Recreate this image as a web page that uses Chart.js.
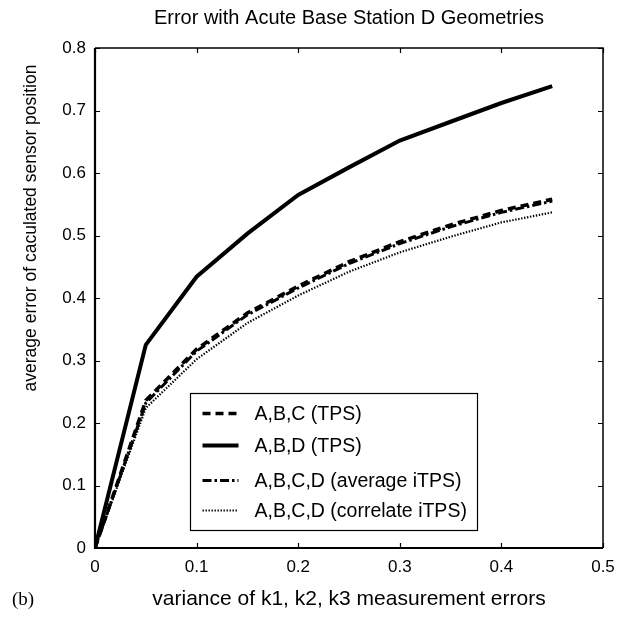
<!DOCTYPE html>
<html>
<head>
<meta charset="utf-8">
<script src="https://cdn.jsdelivr.net/npm/chart.js@4.4.1/dist/chart.umd.min.js"></script>
<style>
  html, body { margin: 0; padding: 0; background: #fff; }
  canvas { display: block; }
</style>
</head>
<body>
<canvas id="c" width="642" height="622"></canvas>
<script>
// ---- data ----
const xValues = [0, 0.05, 0.1, 0.15, 0.2, 0.25, 0.3, 0.35, 0.4, 0.45];
const abcTPS   = [0, 0.236, 0.318, 0.376, 0.419, 0.458, 0.490, 0.517, 0.540, 0.558];
const abdTPS   = [0, 0.325, 0.434, 0.503, 0.565, 0.609, 0.652, 0.682, 0.712, 0.739];
const avgITPS  = [0, 0.232, 0.315, 0.373, 0.416, 0.455, 0.487, 0.514, 0.537, 0.555];
const corITPS  = [0, 0.224, 0.302, 0.360, 0.404, 0.442, 0.473, 0.498, 0.521, 0.537];
const seriesLabels = ['A,B,C (TPS)', 'A,B,D (TPS)', 'A,B,C,D (average iTPS)', 'A,B,C,D (correlate iTPS)'];
const xTicks = [0, 0.1, 0.2, 0.3, 0.4, 0.5];
const yTicks = [0, 0.1, 0.2, 0.3, 0.4, 0.5, 0.6, 0.7, 0.8];
const titleText = 'Error with Acute Base Station D Geometries';
const xTitle = 'variance of k1, k2, k3 measurement errors';
const yTitle = 'average error of caculated sensor position';
const panelTag = '(b)';

const toPts = ys => xValues.map((x, i) => ({ x: x, y: ys[i] }));

const styles = [
  { borderWidth: 3.6, borderDash: [8, 5] },
  { borderWidth: 4, borderDash: [] },
  { borderWidth: 3, borderDash: [9, 3, 2.5, 3] },
  { borderWidth: 2.2, borderDash: [1.4, 1.6] }
];
const values = [abcTPS, abdTPS, avgITPS, corITPS];

const datasets = values.map((v, i) => ({
  label: seriesLabels[i],
  data: toPts(v),
  borderColor: '#000',
  backgroundColor: '#000',
  borderWidth: styles[i].borderWidth,
  borderDash: styles[i].borderDash,
  pointRadius: 0,
  tension: 0,
  fill: false
}));

// frame + inward ticks, legend, extra texts
const framePlugin = {
  id: 'frame',
  afterDatasetsDraw(chart) {
    const ctx = chart.ctx;
    const a = chart.chartArea;
    const xs = chart.scales.x, ys = chart.scales.y;
    ctx.save();
    ctx.strokeStyle = '#000';
    // box
    ctx.lineWidth = 1.5;
    ctx.beginPath();
    ctx.moveTo(a.left, a.top); ctx.lineTo(a.right, a.top); ctx.lineTo(a.right, a.bottom);
    ctx.stroke();
    ctx.lineWidth = 2.2;
    ctx.beginPath();
    ctx.moveTo(a.left, a.top); ctx.lineTo(a.left, a.bottom); ctx.lineTo(a.right, a.bottom);
    ctx.stroke();
    // inward ticks
    const tl = 5;
    ctx.lineWidth = 1.2;
    ctx.beginPath();
    xTicks.forEach(t => {
      const px = Math.round(xs.getPixelForValue(t)) + 0.5;
      ctx.moveTo(px, a.bottom); ctx.lineTo(px, a.bottom - tl);
      ctx.moveTo(px, a.top); ctx.lineTo(px, a.top + tl);
    });
    yTicks.forEach(t => {
      const py = Math.round(ys.getPixelForValue(t)) + 0.5;
      ctx.moveTo(a.left, py); ctx.lineTo(a.left + tl, py);
      ctx.moveTo(a.right, py); ctx.lineTo(a.right - tl, py);
    });
    ctx.stroke();

    // legend box
    const lx = a.left + 95.5, ly = a.top + 345.5, lw = 287, lh = 137;
    ctx.fillStyle = '#fff';
    ctx.fillRect(lx, ly, lw, lh);
    ctx.lineWidth = 1.2;
    ctx.strokeRect(lx, ly, lw, lh);
    const rowY = [20, 52, 87, 117];
    ctx.font = '19.5px "Liberation Sans", Arial, sans-serif';
    ctx.textBaseline = 'middle';
    ctx.textAlign = 'left';
    chart.data.datasets.forEach((ds, i) => {
      const y = ly + rowY[i];
      ctx.save();
      ctx.lineWidth = ds.borderWidth;
      ctx.setLineDash(ds.borderDash || []);
      ctx.beginPath();
      ctx.moveTo(lx + 12, y); ctx.lineTo(lx + 48, y);
      ctx.stroke();
      ctx.restore();
      ctx.fillStyle = '#000';
      ctx.fillText(ds.label, lx + 64, y + 1);
    });

    // y-axis title (placed off-centre as in the reference)
    ctx.save();
    ctx.translate(31, 228);
    ctx.rotate(-Math.PI / 2);
    ctx.font = '17.5px "Liberation Sans", Arial, sans-serif';
    ctx.fillStyle = '#000';
    ctx.textAlign = 'center';
    ctx.textBaseline = 'middle';
    ctx.fillText(yTitle, 0, 0);
    ctx.restore();

    // panel tag
    ctx.font = '19px "Liberation Serif", "Times New Roman", serif';
    ctx.fillStyle = '#000';
    ctx.textAlign = 'left';
    ctx.textBaseline = 'alphabetic';
    ctx.fillText(panelTag, 12, 605);
    ctx.restore();
  }
};

new Chart(document.getElementById('c'), {
  type: 'line',
  data: { datasets: datasets },
  options: {
    responsive: false,
    animation: false,
    devicePixelRatio: 1,
    layout: { padding: { left: 0, right: 39, top: 0, bottom: 0 } },
    plugins: {
      legend: { display: false },
      tooltip: { enabled: false },
      title: {
        display: true,
        fullSize: false,
        text: titleText,
        color: '#000',
        font: { family: '"Liberation Sans", Arial, sans-serif', size: 20, weight: 'normal' },
        padding: { top: 6, bottom: 18 }
      }
    },
    scales: {
      x: {
        type: 'linear',
        min: 0, max: 0.5,
        afterFit(s) { s.height = 74; },
        afterBuildTicks(s) { s.ticks = xTicks.map(v => ({ value: v })); },
        grid: { display: false, drawTicks: false },
        border: { display: false },
        ticks: {
          color: '#000',
          font: { family: '"Liberation Sans", Arial, sans-serif', size: 17 },
          padding: 9,
          maxRotation: 0,
          callback: v => String(v)
        },
        title: {
          display: true,
          text: xTitle,
          color: '#000',
          font: { family: '"Liberation Sans", Arial, sans-serif', size: 21 },
          padding: { top: 0, bottom: 10 }
        }
      },
      y: {
        type: 'linear',
        min: 0, max: 0.8,
        afterFit(s) { s.width = 95; },
        afterBuildTicks(s) { s.ticks = yTicks.map(v => ({ value: v })); },
        grid: { display: false, drawTicks: false },
        border: { display: false },
        ticks: {
          color: '#000',
          font: { family: '"Liberation Sans", Arial, sans-serif', size: 17 },
          padding: 9,
          callback: v => String(v)
        }
      }
    }
  },
  plugins: [framePlugin]
});
</script>
</body>
</html>
